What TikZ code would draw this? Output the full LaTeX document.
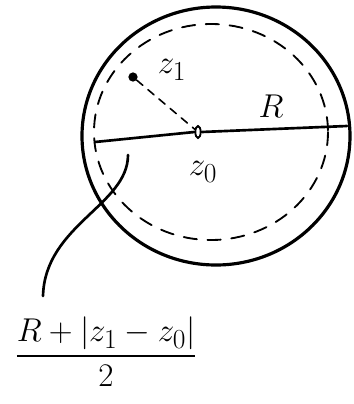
\documentclass[tikz,border=0pt]{standalone}
\usepackage{amsmath, amssymb}
\usepackage{tikz}
\usetikzlibrary{positioning, shapes.geometric}

\tikzset{
  lbl/.style={font=\Huge, inner sep=1pt},
  penline/.style={line width=2pt, line cap=round, line join=round},
  dashpen/.style={line width=1.4pt, line cap=round, dash pattern=on 10pt off 8pt}
}

\begin{document}
\begin{tikzpicture}[x=0.0265cm, y=-0.0265cm]
  \useasboundingbox (0,0) rectangle (354,404);

  % disc and the dashed circle inside it
  \draw[penline, line width=2.4pt] (216,136) ellipse (134 and 129);
  \draw[dashpen] (211,132) ellipse (117 and 108);

  % the two points
  \node[circle, fill, inner sep=0, minimum size=7pt] (z1) at (133,77) {};
  \node[ellipse, draw, line width=1.4pt, inner sep=0,
        minimum width=4pt, minimum height=9pt] (z0) at (198,132) {};

  % radius through the centre
  \coordinate (west) at (95,142);
  \coordinate (east) at (347,126);
  \draw[penline] (west) -- (z0.west);
  \draw[penline] (z0.east) -- (east);
  \draw[dashpen, line width=1.2pt, dash pattern=on 6pt off 5pt] (z1) -- (z0);

  \node[lbl] (z1lbl) at (172,70) {$z_1$};
  \node[lbl] (rlbl) at (271,106) {$R$};
  \node[lbl] (z0lbl) at (203,172) {$z_0$};

  % the radius of the smaller disc
  \node[lbl] (frac) at (106,352) {$\dfrac{R+|z_1-z_0|}{2}$};
  \coordinate (pick) at (128,155);
  \coordinate (tail) at (43,296);
  \draw[penline] (pick) .. controls (128,205) and (45,225) .. (tail);
\end{tikzpicture}
\end{document}
